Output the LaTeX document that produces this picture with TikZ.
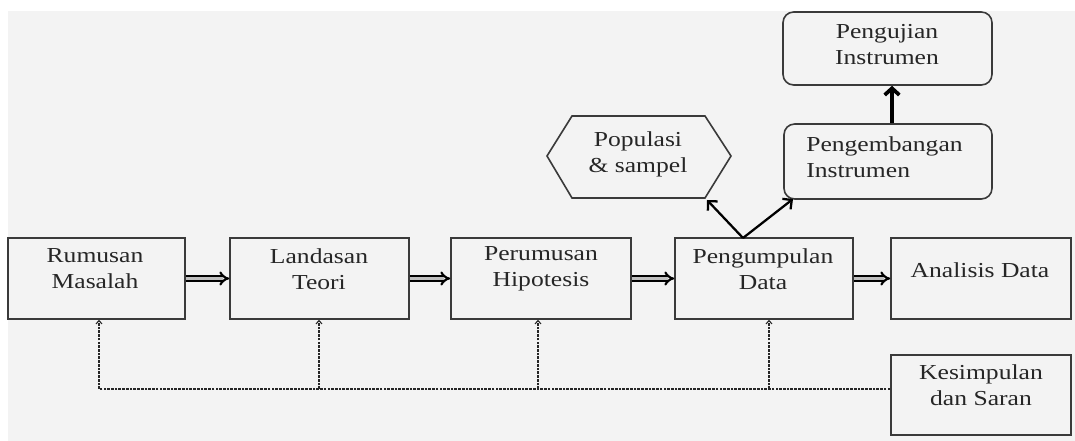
\documentclass[tikz,border=0pt]{standalone}
\usepackage{fontspec}
\setmainfont{Liberation Serif}[FakeStretch=1.2]
\usetikzlibrary{arrows.meta,fit,calc}
\definecolor{bg}{HTML}{F3F3F3}
\definecolor{edge}{HTML}{3A3A3A}
\definecolor{ink}{HTML}{262626}
\begin{document}
\begin{tikzpicture}[x=0.75pt,y=-0.75pt,
  box/.style={draw=edge,line width=1.2pt,inner sep=0pt,fill=bg},
  rbox/.style={box,rounded corners=8pt},
  txt/.style={text=ink,align=center,inner sep=0pt,font=\fontsize{16pt}{19.5pt}\selectfont},
  dbl/.style={draw=black,line width=1.6pt,double=gray!50,double distance=1.8pt,-{Implies[length=5pt,width=10pt]}},
  thk/.style={draw=black,line width=1.7pt,-{Straight Barb[length=5pt,width=10pt]}},
  thkr/.style={draw=black,line width=2.8pt,-{Straight Barb[length=5pt,width=11pt]}},
  dsh/.style={draw=gray!30!black,line width=0.8pt,dash pattern=on 2pt off 0.8pt},
  dsa/.style={dsh,-{Straight Barb[length=2.5pt,width=4.5pt]}}]
\useasboundingbox (0,0) rectangle (1075,441);
\fill[white] (0,0) rectangle (1075,441);
\fill[bg] (8,11) rectangle (1075,441);

% main row boxes
\node[box,fit={(8,238) (185,319)}] (rm) {};
\node[box,fit={(230,238) (409,319)}] (ld) {};
\node[box,fit={(451,238) (631,319)}] (ph) {};
\node[box,fit={(675,238) (853,319)}] (pd) {};
\node[box,fit={(891,238) (1071,319)}] (ad) {};
\node[box,fit={(891,355) (1071,435)}] (ks) {};

% upper boxes
\node[rbox,fit={(784,124) (992,199)}] (pi) {};
\node[rbox,fit={(783,12) (992,85)}] (ui) {};
\draw[draw=edge,line width=1.2pt,fill=bg,line join=miter]
  (547,156) -- (572,116) -- (705,116) -- (731,156) -- (705,198) -- (572,198) -- cycle;

% texts
\node[txt] at (95,269) {Rumusan\\Masalah};
\node[txt] at (319,269) {Landasan\\Teori};
\node[txt] at (541,269) {Perumusan\\Hipotesis};
\node[txt] at (763,269) {Pengumpulan\\Data};
\node[txt] at (980,270) {Analisis Data};
\node[txt] at (981,385) {Kesimpulan\\dan Saran};
\node[txt] at (887,45) {Pengujian\\Instrumen};
\node[txt,align=left,anchor=west] at (806,157) {Pengembangan\\Instrumen};
\node[txt] (pop) at (638,154) {Populasi\\\& sampel};

% double arrows
\draw[dbl] (rm.east) -- (ld.west);
\draw[dbl] (ld.east) -- (ph.west);
\draw[dbl] (ph.east) -- (pd.west);
\draw[dbl] (pd.east) -- (ad.west);

% thick arrows
\coordinate (pdtop) at (743,238);
\coordinate (popc) at (707,200);
\coordinate (pic) at (793,199);
\draw[thk] (pdtop) -- (popc);
\draw[thk] (pdtop) -- (pic);
\draw[thkr] (pi.north -| 892,0) -- (ui.south -| 892,0);

% feedback dashed
\coordinate (f1) at (99,389);
\coordinate (f2) at (319,389);
\coordinate (f3) at (538,389);
\coordinate (f4) at (769,389);
\draw[dsh] (ks.west |- f1) -- (f1);
\draw[dsa] (f1) -- (f1 |- rm.south);
\draw[dsa] (f2) -- (f2 |- ld.south);
\draw[dsa] (f3) -- (f3 |- ph.south);
\draw[dsa] (f4) -- (f4 |- pd.south);
\end{tikzpicture}
\end{document}
